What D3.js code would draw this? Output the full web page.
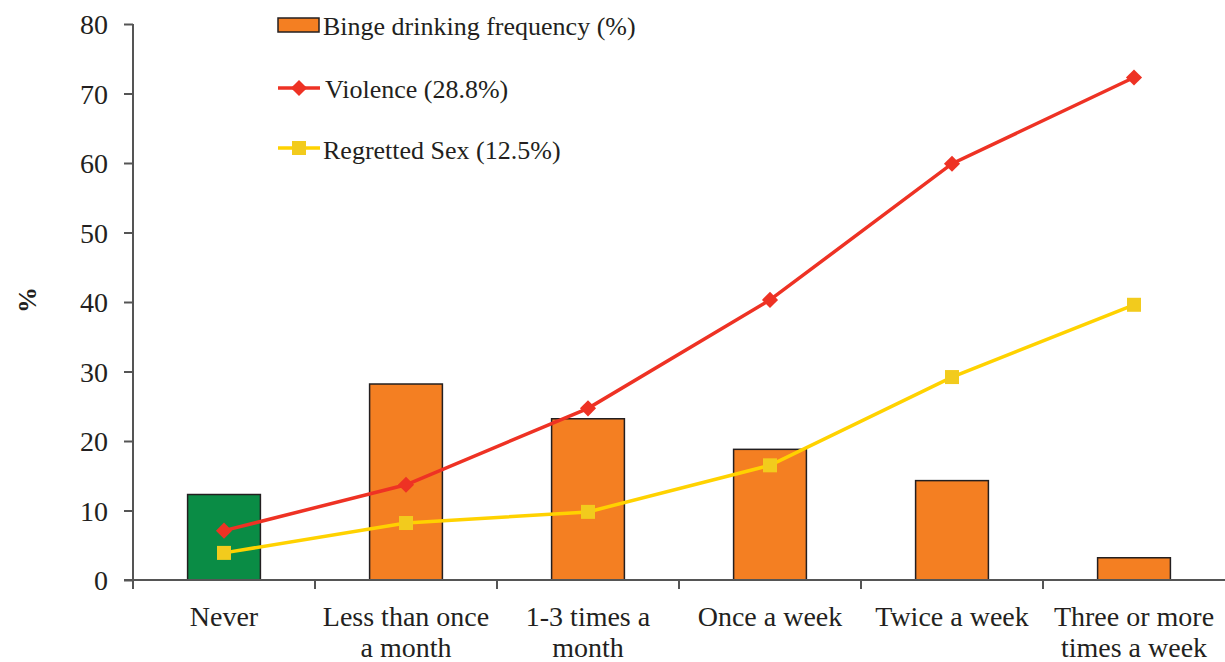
<!DOCTYPE html>
<html>
<head>
<meta charset="utf-8">
<script src="https://cdn.jsdelivr.net/npm/d3@7"></script>
<style>
  html, body { margin: 0; padding: 0; background: #fff; }
  svg { display: block; }
  text { font-family: "Liberation Serif", "Times New Roman", serif; fill: #231f20; }
</style>
</head>
<body>
<svg id="chart" width="1225" height="662"></svg>
<script>
// Drinking frequency categories (two-line labels)
const categories = [
  ["Never"],
  ["Less than once", "a month"],
  ["1-3 times a", "month"],
  ["Once a week"],
  ["Twice a week"],
  ["Three or more", "times a week"]
];
const bingeFrequency = [12.3, 28.2, 23.2, 18.8, 14.3, 3.2];
const violence = [7.1, 13.7, 24.7, 40.3, 59.9, 72.3];
const regrettedSex = [3.9, 8.2, 9.8, 16.5, 29.2, 39.6];
const yTicks = [0, 10, 20, 30, 40, 50, 60, 70, 80];
const legendLabels = ["Binge drinking frequency (%)", "Violence (28.8%)", "Regretted Sex (12.5%)"];

const svg = d3.select("#chart");
const plotLeft = 133, plotRight = 1225, plotTop = 24, plotBottom = 580;

const x = d3.scaleBand().domain(d3.range(categories.length)).range([plotLeft, plotRight]);
const y = d3.scaleLinear().domain([0, 80]).range([plotBottom, plotTop]);

const barW = x.bandwidth() * 0.4;
const cx = i => x(i) + x.bandwidth() / 2;

// Bars
svg.append("g").selectAll("rect").data(bingeFrequency).join("rect")
  .attr("x", (d, i) => cx(i) - barW / 2)
  .attr("y", d => y(d))
  .attr("width", barW)
  .attr("height", d => y(0) - y(d))
  .attr("fill", (d, i) => i === 0 ? "#0a8c45" : "#f47f22")
  .attr("stroke", "#231f20")
  .attr("stroke-width", 1.5);

// Y axis
const yAxis = svg.append("g").attr("transform", `translate(${plotLeft},0)`)
  .call(d3.axisLeft(y).tickValues(yTicks).tickSize(9).tickPadding(16).tickFormat(d3.format("d")));
yAxis.select(".domain").attr("stroke", "#555").attr("stroke-width", 2)
  .attr("d", `M0,${plotTop}V${plotBottom}`);
yAxis.selectAll(".tick line").attr("stroke", "#555").attr("stroke-width", 2);
yAxis.selectAll(".tick text").attr("font-size", 28).attr("dy", "0.34em")
  .attr("font-family", "Liberation Serif, serif").attr("fill", "#231f20");

// X axis with ticks at category boundaries
const xAxisG = svg.append("g");
xAxisG.append("line").attr("x1", plotLeft - 9).attr("x2", plotRight).attr("y1", plotBottom).attr("y2", plotBottom)
  .attr("stroke", "#555").attr("stroke-width", 2);
xAxisG.selectAll("line.tk").data(d3.range(categories.length)).join("line").attr("class", "tk")
  .attr("x1", i => x(i)).attr("x2", i => x(i))
  .attr("y1", plotBottom).attr("y2", plotBottom + 9)
  .attr("stroke", "#555").attr("stroke-width", 2);
xAxisG.selectAll("text").data(categories).join("text")
  .attr("text-anchor", "middle")
  .attr("font-size", 28)
  .attr("x", (d, i) => cx(i))
  .attr("y", 626)
  .each(function(lines) {
    const tx = d3.select(this).attr("x");
    d3.select(this).selectAll("tspan").data(lines).join("tspan")
      .attr("x", tx)
      .attr("dy", (l, j) => j === 0 ? 0 : 31)
      .text(l => l);
  });

// Y axis title
svg.append("text")
  .attr("transform", "translate(36,300) rotate(-90)")
  .attr("text-anchor", "middle")
  .attr("font-size", 26)
  .attr("font-weight", "bold")
  .text("%");

// Lines
const line = d3.line().x((d, i) => cx(i)).y(d => y(d));
svg.append("path").datum(violence).attr("d", line)
  .attr("fill", "none").attr("stroke", "#ee3224").attr("stroke-width", 3.5);
svg.append("path").datum(regrettedSex).attr("d", line)
  .attr("fill", "none").attr("stroke", "#ffd200").attr("stroke-width", 3.5);

const diamond = d3.symbol().type(d3.symbolSquare).size(130);
svg.append("g").selectAll("path").data(violence).join("path")
  .attr("d", diamond)
  .attr("transform", (d, i) => `translate(${cx(i)},${y(d)}) rotate(45)`)
  .attr("fill", "#ee3224");

svg.append("g").selectAll("rect").data(regrettedSex).join("rect")
  .attr("x", (d, i) => cx(i) - 7)
  .attr("y", d => y(d) - 7)
  .attr("width", 14).attr("height", 14)
  .attr("fill", "#f2cb1d");

// Legend
const lg = svg.append("g");
lg.append("rect").attr("x", 278).attr("y", 18).attr("width", 41).attr("height", 14)
  .attr("fill", "#f47f22").attr("stroke", "#231f20").attr("stroke-width", 1.5);
lg.append("line").attr("x1", 278).attr("x2", 320).attr("y1", 88).attr("y2", 88)
  .attr("stroke", "#ee3224").attr("stroke-width", 3.5);
lg.append("path").attr("d", diamond).attr("transform", "translate(299,88) rotate(45)").attr("fill", "#ee3224");
lg.append("line").attr("x1", 278).attr("x2", 320).attr("y1", 148).attr("y2", 148)
  .attr("stroke", "#ffd200").attr("stroke-width", 3.5);
lg.append("rect").attr("x", 292).attr("y", 141).attr("width", 14).attr("height", 14).attr("fill", "#f2cb1d");

lg.selectAll("text").data(legendLabels).join("text")
  .attr("x", (d, i) => i === 1 ? 325 : 323)
  .attr("y", (d, i) => [35, 98, 159][i])
  .attr("font-size", 26)
  .text(d => d);
</script>
</body>
</html>
